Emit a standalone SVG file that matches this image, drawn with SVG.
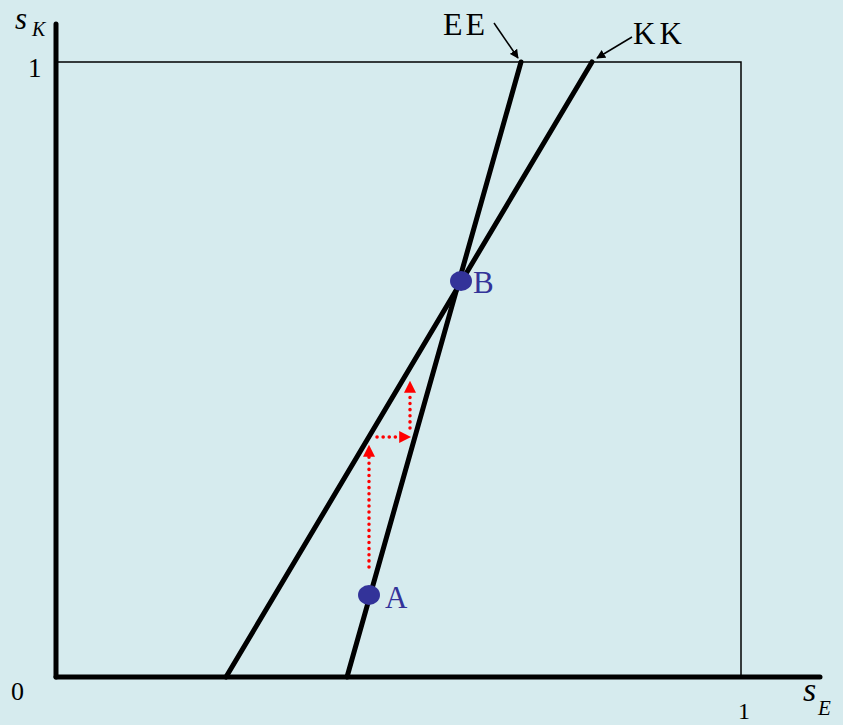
<svg xmlns="http://www.w3.org/2000/svg" width="843" height="725" viewBox="0 0 843 725">
<defs>
<style>
.lbl{font-family:"Liberation Serif","Times New Roman",serif;fill:#000}
.it{font-style:italic}
.pt{font-family:"Liberation Serif","Times New Roman",serif;fill:#333399;font-size:31px}
.curve{stroke:#000;stroke-width:5;fill:none;stroke-linecap:round}
.red{stroke:#ff0000;stroke-width:3.5;stroke-dasharray:0.1 6;stroke-linecap:round;fill:none}
</style>
<marker id="ah" viewBox="0 0 10 10" refX="9" refY="5" markerWidth="9" markerHeight="9" orient="auto" markerUnits="userSpaceOnUse"><path d="M0,0 L10,5 L0,10 z" fill="#000"/></marker>
<marker id="rh" viewBox="0 0 10 10" refX="9" refY="5" markerWidth="12" markerHeight="12" orient="auto" markerUnits="userSpaceOnUse"><path d="M0,0 L10,5 L0,10 z" fill="#ff0000"/></marker>
</defs>
<rect width="843" height="725" fill="#d6ebee"/>
<g id="box"><rect x="56" y="62" width="685" height="615" fill="none" stroke="#000" stroke-width="1.5"/></g>
<g id="axes">
<line x1="56" y1="677" x2="56" y2="24" class="curve"/>
<line x1="56" y1="677" x2="820" y2="677" class="curve"/>
</g>
<g id="connectors">
<line x1="347" y1="677" x2="521" y2="62" class="curve"/>
<line x1="226" y1="677" x2="592" y2="62" class="curve"/>
<line x1="494" y1="23" x2="518" y2="58" stroke="#000" stroke-width="1.5" marker-end="url(#ah)"/>
<line x1="632" y1="37" x2="597" y2="58" stroke="#000" stroke-width="1.5" marker-end="url(#ah)"/>
<line x1="369" y1="567" x2="369" y2="446" class="red"/>
<path d="M369,458 L369,446" stroke="none" fill="none" marker-end="url(#rh)"/>
<line x1="377" y1="437" x2="400" y2="437" class="red"/>
<path d="M398,437 L410,437" stroke="none" fill="none" marker-end="url(#rh)"/>
<line x1="410" y1="428" x2="410" y2="392" class="red"/>
<path d="M410,394 L410,382" stroke="none" fill="none" marker-end="url(#rh)"/>
</g>
<g id="pointA"><ellipse cx="369" cy="595" rx="11" ry="10" fill="#333399"/><text x="385" y="608" class="pt">A</text></g>
<g id="pointB"><ellipse cx="461" cy="281" rx="11" ry="10" fill="#333399"/><text x="473" y="293" class="pt">B</text></g>
<g id="labels">
<text x="15" y="29" class="lbl it" font-size="31">s</text>
<text x="32" y="36" class="lbl it" font-size="20">K</text>
<text x="28" y="77" class="lbl" font-size="27">1</text>
<text x="11" y="700" class="lbl" font-size="26">0</text>
<text x="738" y="719" class="lbl" font-size="24">1</text>
<text x="803" y="701" class="lbl it" font-size="34">s</text>
<text x="818" y="715" class="lbl it" font-size="21">E</text>
<text x="443" y="35" class="lbl" font-size="32" letter-spacing="3">EE</text>
<text x="633" y="44" class="lbl" font-size="31" letter-spacing="4">KK</text>
</g>
</svg>
